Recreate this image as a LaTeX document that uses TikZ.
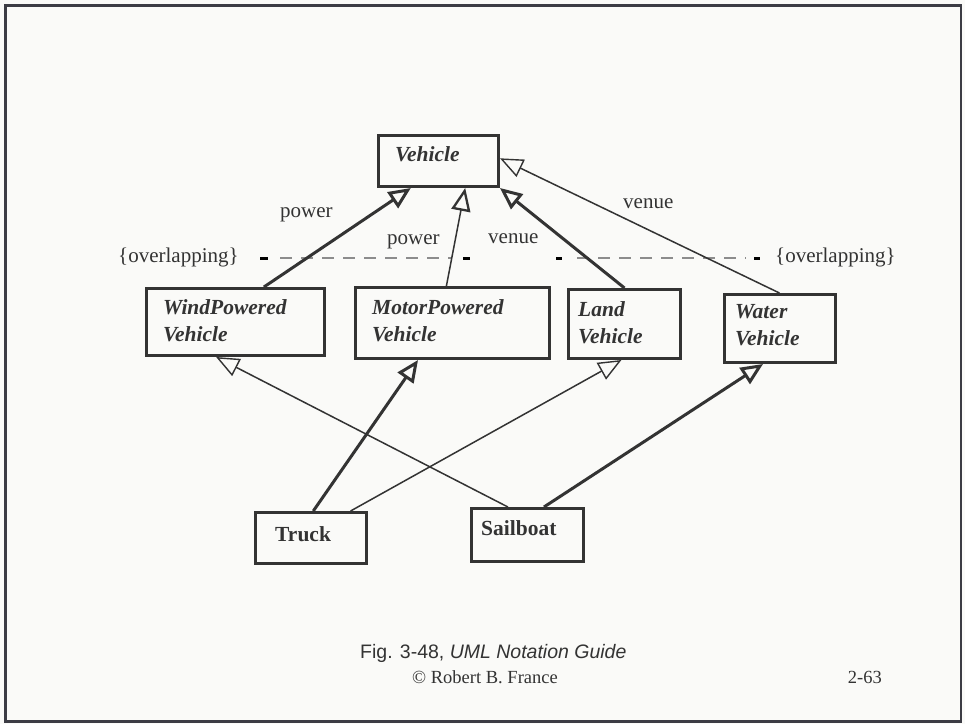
\documentclass[tikz,border=0pt]{standalone}
\usepackage{fontspec}
\setmainfont{Liberation Serif}
\setsansfont{Liberation Sans}
\usetikzlibrary{arrows.meta,calc}
\definecolor{ink}{HTML}{333333}
\definecolor{paper}{HTML}{FAFAF8}
\definecolor{framecol}{HTML}{3C3C44}
\definecolor{dashgray}{HTML}{8C8C8C}
\tikzset{
  classbox/.style={draw=ink, line width=3pt, rectangle, inner sep=0pt, anchor=north west},
  % multi-line names: the base anchor sits on the last line
  classname/.style={text=ink, font=\fontsize{21.5}{27}\selectfont\bfseries\itshape,
    inner sep=0pt, anchor=base west, align=left},
  leafname/.style={text=ink, font=\fontsize{21.5}{27}\selectfont\bfseries,
    inner sep=0pt, anchor=base west},
  tag/.style={text=ink, font=\fontsize{21}{26}\selectfont, inner sep=0pt, anchor=base west},
  footserif/.style={text=ink, font=\fontsize{18.5}{22}\selectfont, inner sep=0pt},
  footsans/.style={text=ink, font=\fontsize{19.5}{23}\selectfont\sffamily, inner sep=0pt, anchor=base west},
  boldgen/.style={draw=ink, line width=3pt,
    -{Triangle[open, length=22pt, width=19pt, line width=3pt]}},
  thingen/.style={draw=ink, line width=1.5pt,
    -{Triangle[open, length=23pt, width=19pt, line width=1.4pt]}},
  thinboldtip/.style={draw=ink, line width=1.5pt,
    -{Triangle[open, length=23pt, width=19pt, line width=2.3pt]}},
  endtick/.style={draw=black, line width=3pt},
  setline/.style={draw=dashgray, line width=1.5pt, dash pattern=on 12pt off 9pt},
}
\begin{document}
\begin{tikzpicture}[x=1pt, y=-1pt]
  % page and frame
  \useasboundingbox (0,0) rectangle (965,724);
  \fill[paper] (0,0) rectangle (965,724);
  \draw[framecol, line width=2.5pt] (5.5,5.5) rectangle (961,721.5);

  % class boxes
  \node[classbox, minimum width=120pt, minimum height=51pt] (vehicle) at (377,134) {};
  \node[classbox, minimum width=178pt, minimum height=67pt] (wind)    at (145,287) {};
  \node[classbox, minimum width=194pt, minimum height=71pt] (motor)   at (354,286) {};
  \node[classbox, minimum width=112pt, minimum height=69pt] (land)    at (567,288) {};
  \node[classbox, minimum width=111pt, minimum height=68pt] (water)   at (723,293) {};
  \node[classbox, minimum width=111pt, minimum height=51pt] (truck)   at (254,511) {};
  \node[classbox, minimum width=112pt, minimum height=53pt] (sail)    at (470,507) {};

  % class names
  \node[classname] (vehicle-name) at (395,161) {Vehicle};
  \node[classname] (wind-name)    at (163,341) {WindPowered\\Vehicle};
  \node[classname] (motor-name)   at (372,341) {MotorPowered\\Vehicle};
  \node[classname] (land-name)    at (578,343) {Land\\Vehicle};
  \node[classname] (water-name)   at (735,345) {Water\\Vehicle};
  \node[leafname]  (truck-name)   at (275,541) {Truck};
  \node[leafname]  (sail-name)    at (481,535) {Sailboat};

  % discriminator labels
  \node[tag] (power-a) at (280,217) {power};
  \node[tag] (power-b) at (387,244) {power};
  \node[tag] (venue-a) at (488,243) {venue};
  \node[tag] (venue-b) at (623,208) {venue};
  \node[tag] (ovl-left)  at (118,262) {\{overlapping\}};
  \node[tag] (ovl-right) at (775,262) {\{overlapping\}};

  % constraint lines across the generalizations
  \coordinate (la) at (260,258); \coordinate (lb) at (268,258);
  \coordinate (lc) at (280,258); \coordinate (ld) at (452,258);
  \coordinate (le) at (463,258); \coordinate (lf) at (470,258);
  \coordinate (ra) at (556,258); \coordinate (rb) at (562,258);
  \coordinate (rc) at (577,258); \coordinate (rd) at (746,258);
  \coordinate (re) at (754,258); \coordinate (rf) at (760,258);
  \draw[endtick] (la) -- (lb);
  \draw[setline] (lc) -- (ld);
  \draw[endtick] (le) -- (lf);
  \draw[endtick] (ra) -- (rb);
  \draw[setline] (rc) -- (rd);
  \draw[endtick] (re) -- (rf);

  % generalizations to Vehicle
  \draw[boldgen] ($(wind.north west)!0.657!(wind.north east)$)
              -- ($(vehicle.south west)!0.275!(vehicle.south east)$);
  \draw[thinboldtip] ($(motor.north west)!0.469!(motor.north east)$)
              -- ($(vehicle.south west)!0.717!(vehicle.south east)$);
  \draw[boldgen] ($(land.north west)!0.5!(land.north east)$)
              -- (vehicle.south east);
  \draw[thingen] ($(water.north west)!0.495!(water.north east)$)
              -- ($(vehicle.north east)!0.45!(vehicle.south east)$);

  % generalizations of the leaf classes
  \draw[boldgen] ($(truck.north west)!0.52!(truck.north east)$)
              -- ($(motor.south west)!0.325!(motor.south east)$);
  \draw[thingen] ($(truck.north west)!0.847!(truck.north east)$)
              -- ($(land.south west)!0.473!(land.south east)$);
  \draw[thingen] ($(sail.north west)!0.33!(sail.north east)$)
              -- ($(wind.south west)!0.393!(wind.south east)$);
  \draw[boldgen] ($(sail.north west)!0.643!(sail.north east)$)
              -- ($(water.south west)!0.351!(water.south east)$);

  % footer
  \node[footsans] (caption) at (360,658) {Fig. 3-48, \textit{UML Notation Guide}};
  \node[footserif, anchor=base west] (author) at (412,683) {© Robert B. France};
  \node[footserif, anchor=base east] (pageno) at (882,683) {2-63};
\end{tikzpicture}
\end{document}
